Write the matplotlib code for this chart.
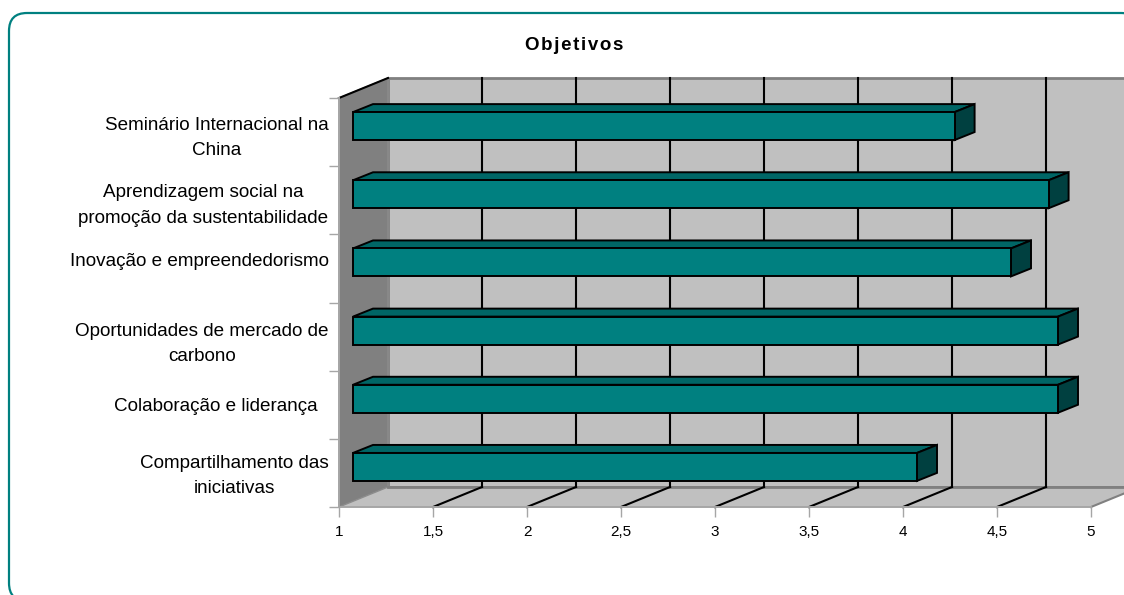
import matplotlib
matplotlib.use('Agg')
import matplotlib.pyplot as plt
from matplotlib.patches import FancyBboxPatch, Polygon

plt.rcParams['font.family'] = ['Liberation Sans', 'DejaVu Sans']

# Data, top bar first
categories = [
    'Seminário Internacional na\nChina',
    'Aprendizagem social na\npromoção da sustentabilidade',
    'Inovação e empreendedorismo',
    'Oportunidades de mercado de\ncarbono',
    'Colaboração e liderança  ',
    'Compartilhamento das\niniciativas',
]
values = [4.2, 4.7, 4.5, 4.75, 4.75, 4.0]
x_ticks = [1, 1.5, 2, 2.5, 3, 3.5, 4, 4.5, 5]
x_tick_labels = ['1', '1,5', '2', '2,5', '3', '3,5', '4', '4,5', '5']

W, H = 1124, 595
fig = plt.figure(figsize=(W / 100, H / 100), dpi=100)

# Rounded frame, runs off the right and bottom edges
bg = fig.add_axes([0, 0, 1, 1])
bg.set_xlim(0, W)
bg.set_ylim(H, 0)
bg.axis('off')
r = 18
bg.add_patch(FancyBboxPatch((9 + r, 13 + r), 1130 - 2 * r, 588 - 2 * r,
                            boxstyle='round,pad=%d,rounding_size=%d' % (r, r),
                            fc='white', ec='#008080', lw=1.6))
bg.text(574.5, 45, '\u200a'.join('Objetivos'), ha='center', va='center',
        fontsize=13.5, fontweight='bold', color='black')

# Axes sit on the front plane of the fake 3D box
left, right, top, bottom = 339, 1091, 98, 507
ax = fig.add_axes([left / W, 1 - bottom / H, (right - left) / W, (bottom - top) / H])
ax.set_xlim(1, 5)
ax.set_ylim(0, len(categories))
ax.patch.set_alpha(0)

px_x = (right - left) / 4
px_y = (bottom - top) / len(categories)


def depth(x, y, dx, dy):
    # move a data point back into the box by a pixel offset
    return (x + dx / px_x, y + dy / px_y)


n = len(categories)
wall_dx, wall_dy = 49, 20

# back wall, floor, side wall
ax.add_patch(Polygon([depth(1, 0, wall_dx, wall_dy), depth(5, 0, wall_dx, wall_dy),
                      depth(5, n, wall_dx, wall_dy), depth(1, n, wall_dx, wall_dy)],
                     fc='#C0C0C0', ec='#808080', lw=2, clip_on=False, zorder=1))
ax.add_patch(Polygon([(1, 0), (5, 0), depth(5, 0, wall_dx, wall_dy), depth(1, 0, wall_dx, wall_dy)],
                     fc='#C0C0C0', ec='none', clip_on=False, zorder=1))
ax.add_patch(Polygon([(1, 0), (1, n), depth(1, n, wall_dx, wall_dy), depth(1, 0, wall_dx, wall_dy)],
                     fc='#808080', ec='#8C8C8C', lw=1, clip_on=False, zorder=1))
ax.plot(*zip((1, n), depth(1, n, wall_dx, wall_dy)), color='black', lw=1.5, clip_on=False, zorder=2)
ax.plot(*zip(depth(1, 0, wall_dx, wall_dy), depth(5, 0, wall_dx, wall_dy)), color='#808080', lw=2,
        clip_on=False, zorder=2)
ax.plot(*zip((5, 0), depth(5, 0, wall_dx, wall_dy)), color='#808080', lw=1.5, clip_on=False, zorder=2)

# grid lines on wall and floor
for t in x_ticks[1:-1]:
    ax.plot(*zip(depth(t, 0, wall_dx, wall_dy), depth(t, n, wall_dx, wall_dy)), color='black', lw=1.5,
            clip_on=False, zorder=3)
    ax.plot(*zip((t, 0), depth(t, 0, wall_dx, wall_dy)), color='black', lw=1.5, clip_on=False, zorder=2)
ax.plot(*zip(depth(5, 0, wall_dx, wall_dy), depth(5, n, wall_dx, wall_dy)), color='black', lw=1.5,
        clip_on=False, zorder=3)

# bars
bar_h = 0.41
front_dx, front_dy = 14, 6
back_dx, back_dy = 34, 14
for i, v in enumerate(values):
    y0 = n - 1 - i + 0.5 - bar_h / 2
    y1 = y0 + bar_h
    a = depth(1, y0, front_dx, front_dy)
    b = depth(v, y0, front_dx, front_dy)
    c = depth(v, y1, front_dx, front_dy)
    d = depth(1, y1, front_dx, front_dy)
    c2 = depth(v, y1, back_dx, back_dy)
    d2 = depth(1, y1, back_dx, back_dy)
    b2 = depth(v, y0, back_dx, back_dy)
    ax.add_patch(Polygon([d, c, c2, d2], fc='#006666', ec='black', lw=1.4, clip_on=False, zorder=5))
    ax.add_patch(Polygon([b, b2, c2, c], fc='#004040', ec='black', lw=1.4, clip_on=False, zorder=5))
    ax.add_patch(Polygon([a, b, c, d], fc='#008080', ec='black', lw=1.4, clip_on=False, zorder=6))

# axes furniture
for s in ['top', 'right']:
    ax.spines[s].set_visible(False)
for s in ['left', 'bottom']:
    ax.spines[s].set_color('#A6A6A6')
    ax.spines[s].set_linewidth(1.4)
    ax.spines[s].set_zorder(4)
ax.set_xticks(x_ticks)
ax.set_xticklabels(x_tick_labels, fontsize=11)
ax.tick_params(axis='x', length=7, width=1, color='#A6A6A6', pad=6)
ax.set_yticks(range(n + 1))
ax.set_yticklabels([])
ax.tick_params(axis='y', which='major', length=7, width=1, color='#A6A6A6')
# the labels do not all sit on the middle of their band
label_shift = [0, 1, 9, -1.5, 0, 3]
ax.set_yticks([n - 1 - i + 0.5 + label_shift[i] / px_y for i in range(n)], minor=True)
ax.set_yticklabels(categories, minor=True, fontsize=13.6, linespacing=1.64, multialignment='center')
ax.tick_params(axis='y', which='minor', length=0, pad=7.5)

fig.savefig('out.png', dpi=100)
